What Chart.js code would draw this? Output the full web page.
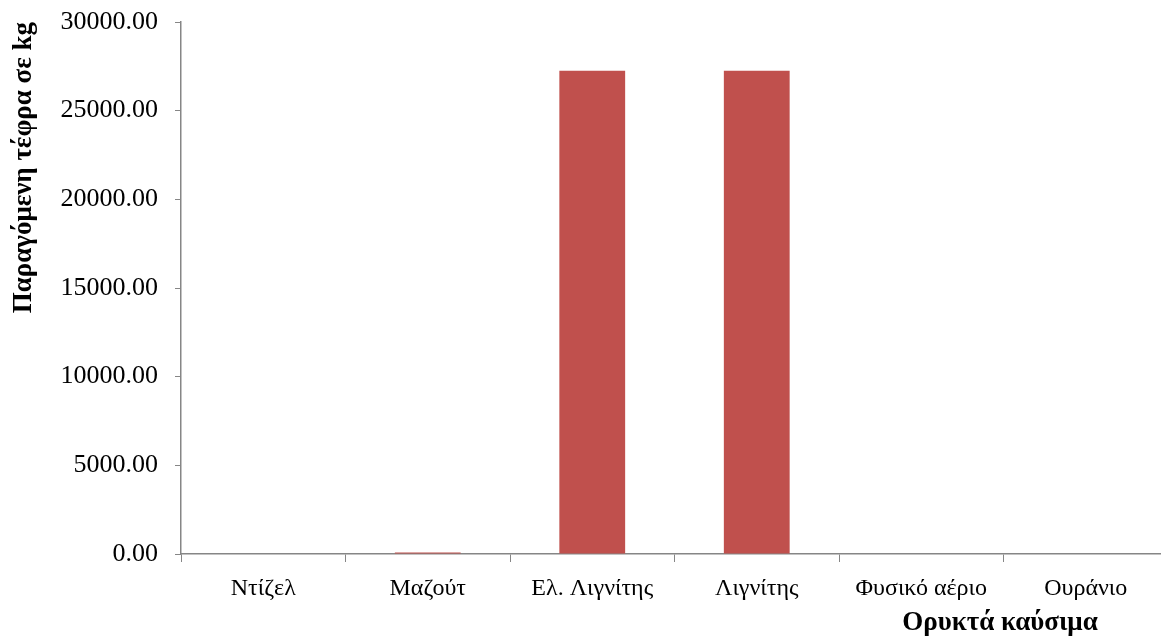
<!DOCTYPE html>
<html>
<head>
<meta charset="utf-8">
<script src="https://cdn.jsdelivr.net/npm/chart.js@4"></script>
<style>
  html, body { margin: 0; padding: 0; background: #fff; overflow: hidden; }
  #wrap { width: 1170px; height: 640px; }
</style>
</head>
<body>
<div id="wrap"><canvas id="ashChart" width="1170" height="640"></canvas></div>
<script>
// Ash produced per fossil fuel (kg)
const fuels = ['Ντίζελ', 'Μαζούτ', 'Ελ. Λιγνίτης', 'Λιγνίτης', 'Φυσικό αέριο', 'Ουράνιο'];
const ashKg = [0, 90, 27250, 27250, 0, 0];
const yTicks = [0, 5000, 10000, 15000, 20000, 25000, 30000];

const axisGrey = '#868686';
const serif = "'Liberation Serif', 'Times New Roman', serif";

// x-axis title sits under the right-hand categories
const xTitlePlugin = {
    id: 'xTitle',
    afterDraw(chart) {
        const c = chart.ctx;
        c.save();
        c.font = 'bold 27px ' + serif;
        c.fillStyle = '#000';
        c.textAlign = 'center';
        c.textBaseline = 'middle';
        c.fillText('Ορυκτά καύσιμα', 1000, 623);
        c.restore();
    }
};

const ctx = document.getElementById('ashChart').getContext('2d');
new Chart(ctx, {
    type: 'bar',
    data: {
        labels: fuels,
        datasets: [{
            data: ashKg,
            backgroundColor: '#C0504D',
            borderWidth: 0,
            categoryPercentage: 1,
            barPercentage: 0.4
        }]
    },
    options: {
        responsive: false,
        animation: false,
        layout: { padding: { top: 22, right: 2, left: 0, bottom: 0 } },
        plugins: { legend: { display: false }, tooltip: { enabled: false } },
        scales: {
            x: {
                offset: true,
                grid: { offset: true, drawOnChartArea: false, color: axisGrey, tickLength: 8 },
                border: { color: axisGrey, width: 1.5 },
                ticks: { color: '#000', font: { family: serif, size: 24 }, padding: 12, maxRotation: 0, autoSkip: false },
                afterFit(scale) { scale.height = 86; }
            },
            y: {
                min: 0,
                max: 30000,
                afterBuildTicks(scale) { scale.ticks = yTicks.map(v => ({ value: v })); },
                grid: { drawOnChartArea: false, color: axisGrey, tickLength: 6 },
                border: { color: axisGrey, width: 1.5 },
                ticks: {
                    color: '#000',
                    font: { family: serif, size: 26 },
                    padding: 17,
                    callback: v => Number(v).toFixed(2)
                },
                title: {
                    display: true,
                    text: 'Παραγόμενη τέφρα σε kg',
                    align: 'end',
                    color: '#000',
                    font: { family: serif, size: 27, weight: 'bold' },
                    padding: { top: 8, bottom: 0 }
                },
                afterFit(scale) {
                    scale.width = 181;
                    scale.paddingTop = 0;
                    scale.paddingBottom = 0;
                }
            }
        }
    },
    plugins: [xTitlePlugin]
});
</script>
</body>
</html>
